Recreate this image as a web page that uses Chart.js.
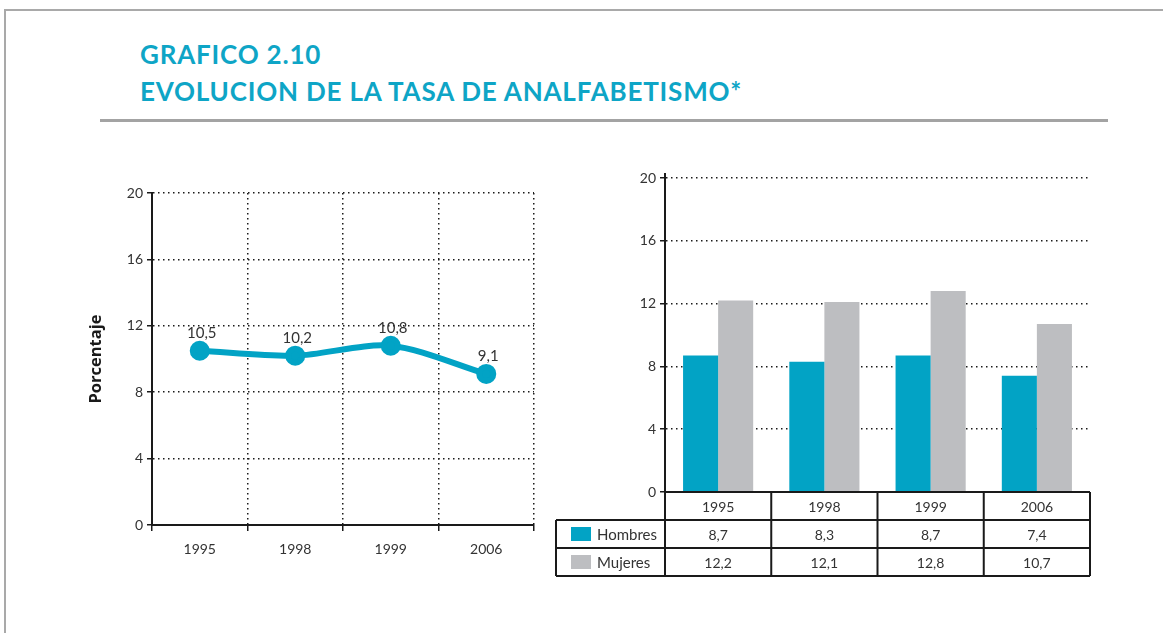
<!DOCTYPE html>
<html>
<head>
<meta charset="utf-8">
<script src="https://cdn.jsdelivr.net/npm/chart.js@4"></script>
<style>
  body { margin: 0; background: #fff; width: 1163px; height: 633px; overflow: hidden; position: relative; }
  #frame_top { position: absolute; left: 4px; top: 9px; width: 1159px; height: 2px; background: #a9a9a9; }
  #frame_left { position: absolute; left: 4px; top: 9px; width: 2px; height: 624px; background: #a9a9a9; }
  #title { position: absolute; left: 140px; top: 36px; font-family: Lato, sans-serif; font-weight: bold;
           font-size: 26px; line-height: 37px; color: #0ea5c6; letter-spacing: 0.8px; }
  #sep { position: absolute; left: 100px; top: 119px; width: 1008px; height: 3px; background: #a3a3a3; }
  #line_box { position: absolute; left: 82px; top: 180px; width: 468px; height: 390px; }
  #bar_box { position: absolute; left: 545px; top: 165px; width: 560px; height: 430px; }
</style>
</head>
<body>
<div id="frame_top"></div>
<div id="frame_left"></div>
<div id="title">GRAFICO 2.10<br>EVOLUCION DE LA TASA DE ANALFABETISMO*</div>
<div id="sep"></div>
<div id="line_box"><canvas id="line_chart"></canvas></div>
<div id="bar_box"><canvas id="bar_chart"></canvas></div>
<script>
// data
const years = ["1995", "1998", "1999", "2006"]
const total_rate = [10.5, 10.2, 10.8, 9.1]
const hombres = [8.7, 8.3, 8.7, 7.4]
const mujeres = [12.2, 12.1, 12.8, 10.7]
const y_ticks = [0, 4, 8, 12, 16, 20]

const BLUE = '#02a3c5'
const GREY = '#bdbec1'
const INK = '#1a1a1a'
const TEXT = '#333'
const FONT = 'Lato, sans-serif'

// decimal comma like the original
function fmt(v) {
    return ("" + v).replace(".", ",")
}

function yTickSetup(scale) {
    scale.ticks = y_ticks.map(function(v) { return { value: v } })
}

// labels over the line points
const pointLabels = {
    id: 'pointLabels',
    afterDatasetsDraw: function(chart) {
        var ctx = chart.ctx
        var meta = chart.getDatasetMeta(0)
        var data = chart.data.datasets[0].data
        ctx.save()
        ctx.font = '15px ' + FONT
        ctx.fillStyle = TEXT
        ctx.textAlign = 'center'
        ctx.textBaseline = 'middle'
        for (var i = 0; i < meta.data.length; i ++) {
            var pt = meta.data[i]
            ctx.fillText(fmt(data[i]), pt.x + 2, pt.y - 18)
        }
        ctx.restore()
    }
}

// y axis line runs a little past the top tick, as in the print
const axisOvershoot = {
    id: 'axisOvershoot',
    afterDraw: function(chart) {
        var ctx = chart.ctx
        var area = chart.chartArea
        ctx.save()
        ctx.strokeStyle = INK
        ctx.lineWidth = 2
        ctx.beginPath()
        ctx.moveTo(area.left, area.top)
        ctx.lineTo(area.left, area.top - 5)
        ctx.stroke()
        ctx.restore()
    }
}

// data table under the bar chart, columns follow the x scale
const dataTable = {
    id: 'dataTable',
    afterDraw: function(chart) {
        var ctx = chart.ctx
        var x = chart.scales.x
        var area = chart.chartArea
        var n = chart.data.labels.length
        var colW = (x.right - x.left) / n
        var rowH = 28
        var top = area.bottom
        var legendLeft = area.left - 109
        var bottom = top + rowH * 3

        ctx.save()
        ctx.strokeStyle = INK
        ctx.lineWidth = 2

        // horizontal lines
        ctx.beginPath()
        ctx.moveTo(area.left, top)
        ctx.lineTo(x.right, top)
        for (var r = 1; r <= 3; r ++) {
            ctx.moveTo(legendLeft, top + rowH * r)
            ctx.lineTo(x.right, top + rowH * r)
        }
        // vertical lines
        for (var c = 0; c <= n; c ++) {
            var cx = x.left + colW * c
            ctx.moveTo(cx, top)
            ctx.lineTo(cx, bottom)
        }
        ctx.moveTo(legendLeft, top + rowH)
        ctx.lineTo(legendLeft, bottom)
        ctx.stroke()

        // texts
        ctx.font = '14px ' + FONT
        ctx.fillStyle = TEXT
        ctx.textAlign = 'center'
        ctx.textBaseline = 'middle'
        var sets = chart.data.datasets
        for (var c = 0; c < n; c ++) {
            var mid = x.getPixelForValue(c)
            ctx.fillText(chart.data.labels[c], mid, top + rowH * 0.5 + 1)
            for (var s = 0; s < sets.length; s ++) {
                ctx.fillText(fmt(sets[s].data[c]), mid, top + rowH * (s + 1.5) + 1)
            }
        }

        // legend column
        ctx.font = '15px ' + FONT
        ctx.textAlign = 'left'
        for (var s = 0; s < sets.length; s ++) {
            var cy = top + rowH * (s + 1.5)
            ctx.fillStyle = sets[s].backgroundColor
            ctx.fillRect(legendLeft + 15, cy - 7, 20, 14)
            ctx.fillStyle = TEXT
            ctx.fillText(sets[s].label, legendLeft + 41, cy + 1)
        }
        ctx.restore()
    }
}

function buildLineChart() {
    new Chart(document.getElementById('line_chart'), {
        type: 'line',
        data: {
            labels: years,
            datasets: [{
                data: total_rate,
                borderColor: BLUE,
                backgroundColor: BLUE,
                borderWidth: 6,
                pointRadius: 7,
                pointHoverRadius: 7,
                tension: 0.3
            }]
        },
        options: {
            responsive: true,
            maintainAspectRatio: false,
            animation: false,
            layout: { padding: { top: 11, right: 16, left: 0, bottom: 0 } },
            plugins: { legend: { display: false }, tooltip: { enabled: false } },
            scales: {
                x: {
                    offset: true,
                    afterFit: function(s) { s.height = 45 },
                    grid: { offset: true, color: INK, lineWidth: 1.5, tickColor: INK, tickLength: 6, tickWidth: 1.5 },
                    border: { color: INK, width: 2, dash: [1.5, 3.5] },
                    ticks: { color: TEXT, font: { family: FONT, size: 14 }, padding: 10 }
                },
                y: {
                    min: 0,
                    max: 20,
                    afterBuildTicks: yTickSetup,
                    afterFit: function(s) { s.width = 70 },
                    grid: { color: INK, lineWidth: 1.5, tickColor: INK, tickLength: 5, tickWidth: 1.5 },
                    border: { color: INK, width: 2, dash: [1.5, 3.5] },
                    ticks: { color: TEXT, font: { family: FONT, size: 14 }, padding: 4 },
                    title: { display: true, text: 'Porcentaje', color: INK, font: { family: '"Open Sans", sans-serif', size: 16.5, weight: 'bold' } }
                }
            }
        },
        plugins: [pointLabels]
    })
}

function buildBarChart() {
    new Chart(document.getElementById('bar_chart'), {
        type: 'bar',
        data: {
            labels: years,
            datasets: [
                { label: 'Hombres', data: hombres, backgroundColor: BLUE },
                { label: 'Mujeres', data: mujeres, backgroundColor: GREY }
            ]
        },
        options: {
            responsive: true,
            maintainAspectRatio: false,
            animation: false,
            categoryPercentage: 0.66,
            barPercentage: 1.0,
            layout: { padding: { top: 13, right: 15, left: 0, bottom: 103 } },
            plugins: { legend: { display: false }, tooltip: { enabled: false } },
            scales: {
                x: { display: false },
                y: {
                    min: 0,
                    max: 20,
                    afterBuildTicks: yTickSetup,
                    afterFit: function(s) { s.width = 120 },
                    grid: { color: INK, lineWidth: 1.5, tickColor: INK, tickLength: 5, tickWidth: 1.5 },
                    border: { color: INK, width: 2, dash: [1.5, 3.5] },
                    ticks: { color: TEXT, font: { family: FONT, size: 14 }, padding: 4 }
                }
            }
        },
        plugins: [dataTable, axisOvershoot]
    })
}

buildLineChart()
buildBarChart()
</script>
</body>
</html>
